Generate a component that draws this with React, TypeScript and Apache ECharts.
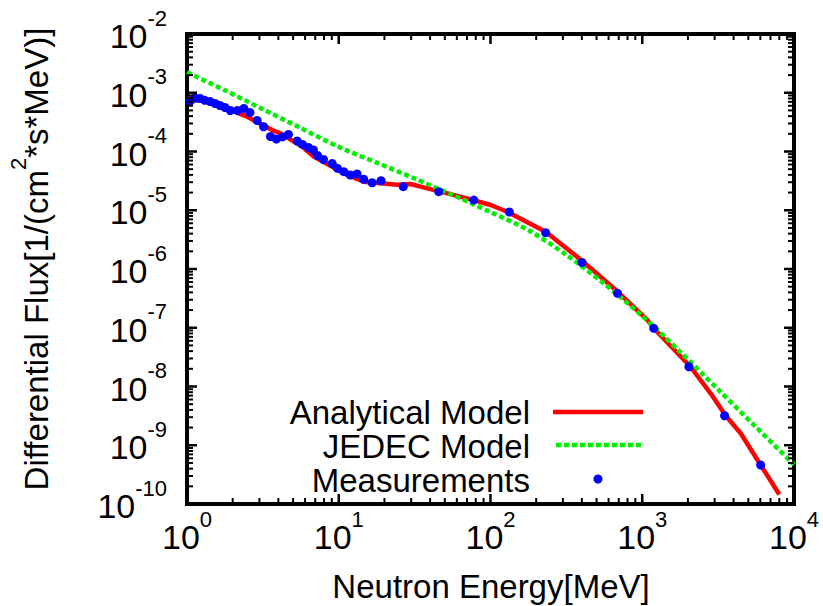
import React, { useEffect, useRef } from "react";
import * as echarts from "echarts";

const FONT = '"Liberation Sans", Arial, Helvetica, sans-serif';
const NARROW = '"Liberation Sans Narrow", "Arial Narrow", "Liberation Sans", sans-serif';

// Analytical model curve (energy in MeV, flux in 1/(cm^2*s*MeV))
const analyticalEnergy = [
  1.0, 1.1, 1.54, 2.19, 2.49, 3.64, 4.13, 5.74, 6.84, 9.06, 11.4, 14.6, 18.8,
  24.3, 29.7, 34.6, 46.8, 77.6, 100, 129, 231, 392, 684, 1080, 1190, 2080,
  2820, 3540, 4450, 6030, 8000,
];
const analyticalFlux = [
  8.3e-4, 7.5e-4, 7.05e-4, 4.47e-4, 3.91e-4, 2.32e-4, 2.04e-4, 1.21e-4, 8.2e-5,
  5.5e-5, 3.98e-5, 3.06e-5, 2.88e-5, 2.72e-5, 2.8e-5, 2.52e-5, 2.07e-5,
  1.49e-5, 1.23e-5, 9.44e-6, 4.32e-6, 1.45e-6, 4.17e-7, 1.36e-7, 9.8e-8,
  2.17e-8, 7.66e-9, 3.2e-9, 1.6e-9, 4.61e-10, 1.45e-10,
];

// JEDEC reference spectrum
const jedecEnergy = [
  1, 1.78, 3.16, 5.62, 10, 17.8, 31.6, 56.2, 100, 178, 316, 562, 1000, 1780,
  3160, 5620, 10000,
];
const jedecFlux = [
  2.24e-3, 1.1e-3, 5.25e-4, 2.51e-4, 1.2e-4, 6.46e-5, 3.47e-5, 1.82e-5, 9.33e-6,
  4.57e-6, 1.74e-6, 5.62e-7, 1.58e-7, 3.89e-8, 8.91e-9, 2.04e-9, 4.68e-10,
];

// Measured points
const measEnergy = [
  1.05, 1.13, 1.22, 1.31, 1.42, 1.53, 1.65, 1.78, 1.93, 2.15, 2.37, 2.6, 2.9,
  3.2, 3.55, 3.88, 4.26, 4.66, 5.32, 5.77, 6.32, 6.81, 7.24, 7.93, 9.05, 9.8,
  10.8, 11.9, 13.2, 14.6, 16.6, 19.0, 26.6, 45.6, 77.6, 133, 231, 401, 687,
  1190, 2030, 3490, 6030,
];
const measFlux = [
  7.24e-4, 8.14e-4, 7.98e-4, 7.44e-4, 7.1e-4, 6.56e-4, 6.07e-4, 5.61e-4,
  4.99e-4, 4.99e-4, 5.4e-4, 4.61e-4, 3.37e-4, 2.64e-4, 1.8e-4, 1.63e-4,
  1.77e-4, 1.95e-4, 1.51e-4, 1.32e-4, 1.17e-4, 1.06e-4, 8.55e-5, 7.31e-5,
  6.25e-5, 5.18e-5, 4.53e-5, 3.98e-5, 4.14e-5, 3.37e-5, 2.94e-5, 3.18e-5,
  2.52e-5, 2.07e-5, 1.49e-5, 9.33e-6, 4.15e-6, 1.29e-6, 3.86e-7, 9.79e-8,
  2.17e-8, 3.18e-9, 4.61e-10,
];

// Decades used for major ticks
const xDecades = [1, 10, 100, 1000, 10000];
const yDecades = [1e-10, 1e-9, 1e-8, 1e-7, 1e-6, 1e-5, 1e-4, 1e-3, 1e-2];

const legendItems = ["Analytical Model", "JEDEC Model", "Measurements"];

function buildTicks() {
  const out: number[][] = [];
  xDecades.forEach((d, i) => {
    out.push([d, 1e-6, 0, 1]);
    if (i < xDecades.length - 1) {
      for (let m = 2; m <= 9; m++) out.push([d * m, 1e-6, 0, 0]);
    }
  });
  yDecades.forEach((d, i) => {
    out.push([10, d, 1, 1]);
    if (i < yDecades.length - 1) {
      for (let m = 2; m <= 9; m++) out.push([10, d * m, 1, 0]);
    }
  });
  return out;
}

const pow10Label = (v: number) => {
  const e = Math.round(Math.log10(v));
  return `{b|10}{s|${e}}`;
};

const labelRich = {
  b: { fontSize: 34, fontFamily: NARROW, color: "#000", padding: [12, 0, 0, 0] },
  s: { fontSize: 22, fontFamily: FONT, color: "#000", verticalAlign: "top" },
};

export default function App() {
  const ref = useRef<HTMLDivElement>(null);

  useEffect(() => {
    if (!ref.current) return;
    const chart = echarts.init(ref.current, null, { renderer: "svg" });

    const zip = (xs: number[], ys: number[]) => xs.map((x, i) => [x, ys[i]]);

    const option: any = {
      animation: false,
      backgroundColor: "#fff",
      grid: {
        left: 187,
        right: 29,
        top: 34,
        bottom: 102,
        show: true,
        borderColor: "#000",
        borderWidth: 4,
        backgroundColor: "transparent",
        containLabel: false,
        outerBoundsMode: "none",
      },
      xAxis: {
        type: "log",
        logBase: 10,
        min: 1,
        max: 10000,
        splitNumber: 4,
        axisLine: { show: false },
        axisTick: { show: false },
        splitLine: { show: false },
        axisLabel: {
          margin: 4,
          formatter: pow10Label,
          rich: labelRich,
          showMinLabel: true,
          showMaxLabel: true,
        },
      },
      yAxis: {
        type: "log",
        logBase: 10,
        min: 1e-10,
        max: 1e-2,
        splitNumber: 8,
        axisLine: { show: false },
        axisTick: { show: false },
        splitLine: { show: false },
        axisLabel: {
          margin: 20,
          formatter: pow10Label,
          rich: labelRich,
          padding: [0, 0, 8, 0],
          showMinLabel: true,
          showMaxLabel: true,
        },
      },
      series: [
        {
          name: legendItems[0],
          type: "line",
          data: zip(analyticalEnergy, analyticalFlux),
          symbol: "none",
          lineStyle: { color: "#ff0000", width: 4.5 },
          z: 3,
        },
        {
          name: legendItems[1],
          type: "line",
          data: zip(jedecEnergy, jedecFlux),
          symbol: "none",
          smooth: 0.3,
          lineStyle: { color: "#00ee00", width: 4.5, type: [5, 3] },
          z: 4,
        },
        {
          name: legendItems[2],
          type: "scatter",
          data: zip(measEnergy, measFlux),
          symbol: "circle",
          symbolSize: 9,
          itemStyle: { color: "#0000ff", opacity: 1 },
          z: 5,
        },
        {
          type: "custom",
          data: buildTicks(),
          encode: { x: 0, y: 1 },
          clip: false,
          silent: true,
          z: 6,
          renderItem: (params: any, api: any) => {
            const cs = params.coordSys;
            const kind = api.value(2);
            const major = api.value(3) === 1;
            const len = major ? 10 : 6;
            const style = { stroke: "#000", lineWidth: major ? 2.5 : 2 };
            if (kind === 0) {
              const px = api.coord([api.value(0), 1e-6])[0];
              const yb = cs.y + cs.height;
              return {
                type: "group",
                children: [
                  { type: "line", shape: { x1: px, y1: yb, x2: px, y2: yb - len }, style },
                  { type: "line", shape: { x1: px, y1: cs.y, x2: px, y2: cs.y + len }, style },
                ],
              };
            }
            const py = api.coord([10, api.value(1)])[1];
            const xr = cs.x + cs.width;
            return {
              type: "group",
              children: [
                { type: "line", shape: { x1: cs.x, y1: py, x2: cs.x + len, y2: py }, style },
                { type: "line", shape: { x1: xr, y1: py, x2: xr - len, y2: py }, style },
              ],
            };
          },
        },
      ],
      graphic: [
        {
          type: "text",
          x: 30,
          y: 259,
          rotation: Math.PI / 2,
          style: {
            text: "{a|Differential Flux[1/(cm}{s|2}{a|*s*MeV)]}",
            align: "center",
            verticalAlign: "middle",
            rich: {
              a: { fontSize: 33, fontFamily: FONT, fill: "#000", padding: [12, 0, 0, 0] },
              s: { fontSize: 22, fontFamily: FONT, fill: "#000", verticalAlign: "top" },
            },
          },
        },
        {
          type: "text",
          x: 491,
          y: 586,
          style: {
            text: "Neutron Energy[MeV]",
            font: `33px ${FONT}`,
            fill: "#000",
            align: "center",
            verticalAlign: "middle",
          },
        },
        // legend block
        {
          type: "text",
          x: 530,
          y: 412,
          style: { text: legendItems[0], font: `33px ${FONT}`, fill: "#000", align: "right", verticalAlign: "middle" },
        },
        {
          type: "text",
          x: 530,
          y: 446,
          style: { text: legendItems[1], font: `33px ${FONT}`, fill: "#000", align: "right", verticalAlign: "middle" },
        },
        {
          type: "text",
          x: 530,
          y: 480,
          style: { text: legendItems[2], font: `33px ${FONT}`, fill: "#000", align: "right", verticalAlign: "middle" },
        },
        {
          type: "line",
          shape: { x1: 553, y1: 412, x2: 643, y2: 412 },
          style: { stroke: "#ff0000", lineWidth: 4.5 },
        },
        {
          type: "line",
          shape: { x1: 556, y1: 445, x2: 643, y2: 445 },
          style: { stroke: "#00ee00", lineWidth: 4.5, lineDash: [5, 3] },
        },
        {
          type: "circle",
          shape: { cx: 598, cy: 479, r: 4.5 },
          style: { fill: "#0000ff" },
        },
      ],
    };

    chart.setOption(option);
    return () => chart.dispose();
  }, []);

  return (
    <div
      ref={ref}
      style={{ position: "fixed", left: 0, top: 0, width: 823, height: 606 }}
    />
  );
}
